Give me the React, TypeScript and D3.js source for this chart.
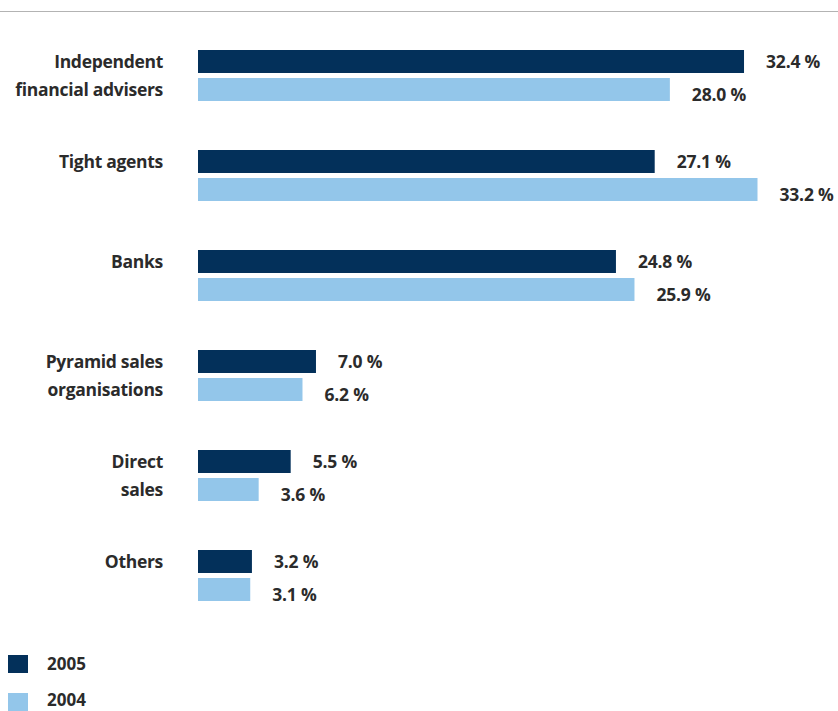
import React from "react";
import * as d3 from "d3";

const categories: string[][] = [
  ["Independent", "financial advisers"],
  ["Tight agents"],
  ["Banks"],
  ["Pyramid sales", "organisations"],
  ["Direct", "sales"],
  ["Others"],
];
const values2005: number[] = [32.4, 27.1, 24.8, 7.0, 5.5, 3.2];
const values2004: number[] = [28.0, 33.2, 25.9, 6.2, 3.6, 3.1];
const seriesNames: string[] = ["2005", "2004"];

const W = 838;
const H = 711;
const DARK = "#03305a";
const LIGHT = "#93c6ea";
const TEXT = "#2b2b2b";
const FONT = "'Open Sans', Lato, sans-serif";

export default function App() {
  const x = d3.scaleLinear().domain([0, 33.2]).range([198, 757.5]);
  const y = d3
    .scaleBand<number>()
    .domain(d3.range(categories.length))
    .range([50, 650])
    .paddingInner(0)
    .paddingOuter(0);
  const barH = 23;
  const gap = 5;
  const fmt = (v: number) => `${v.toFixed(1)} %`;

  return (
    <svg
      width={W}
      height={H}
      style={{ position: "absolute", left: 0, top: 0, display: "block" }}
      fontFamily={FONT}
    >
      <rect width={W} height={H} fill="#fff" />
      <line x1={0} x2={W} y1={11.5} y2={11.5} stroke="#b3b3b3" strokeWidth={1} />
      {categories.map((lines, i) => {
        const y0 = y(i)!;
        const c1 = y0 + barH / 2;
        const c2 = y0 + barH + gap + barH / 2;
        return (
          <g key={i}>
            <rect x={x(0)} y={y0} width={x(values2005[i]) - x(0)} height={barH} fill={DARK} />
            <rect
              x={x(0)}
              y={y0 + barH + gap}
              width={x(values2004[i]) - x(0)}
              height={barH}
              fill={LIGHT}
            />
            <text
              x={x(values2005[i]) + 22}
              y={c1 - 1}
              dominantBaseline="central"
              fontSize={17.5}
              fontWeight={700}
              letterSpacing={-0.2}
              fill={TEXT}
            >
              {fmt(values2005[i])}
            </text>
            <text
              x={x(values2004[i]) + 22}
              y={c2 + 4}
              dominantBaseline="central"
              fontSize={17.5}
              fontWeight={700}
              letterSpacing={-0.2}
              fill={TEXT}
            >
              {fmt(values2004[i])}
            </text>
            {lines.map((ln, j) => (
              <text
                key={j}
                x={163}
                y={(j === 0 ? c1 : c2) - 1}
                textAnchor="end"
                dominantBaseline="central"
                fontSize={17.5}
                fontWeight={700}
                letterSpacing={-0.3}
                fill={TEXT}
              >
                {ln}
              </text>
            ))}
          </g>
        );
      })}
      {seriesNames.map((s, i) => (
        <g key={s}>
          <rect x={8} y={655 + i * 38} width={20} height={18} fill={i === 0 ? DARK : LIGHT} />
          <text
            x={47}
            y={663.5 + i * 36}
            dominantBaseline="central"
            fontSize={17}
            fontWeight={700}
            fill={TEXT}
          >
            {s}
          </text>
        </g>
      ))}
    </svg>
  );
}
